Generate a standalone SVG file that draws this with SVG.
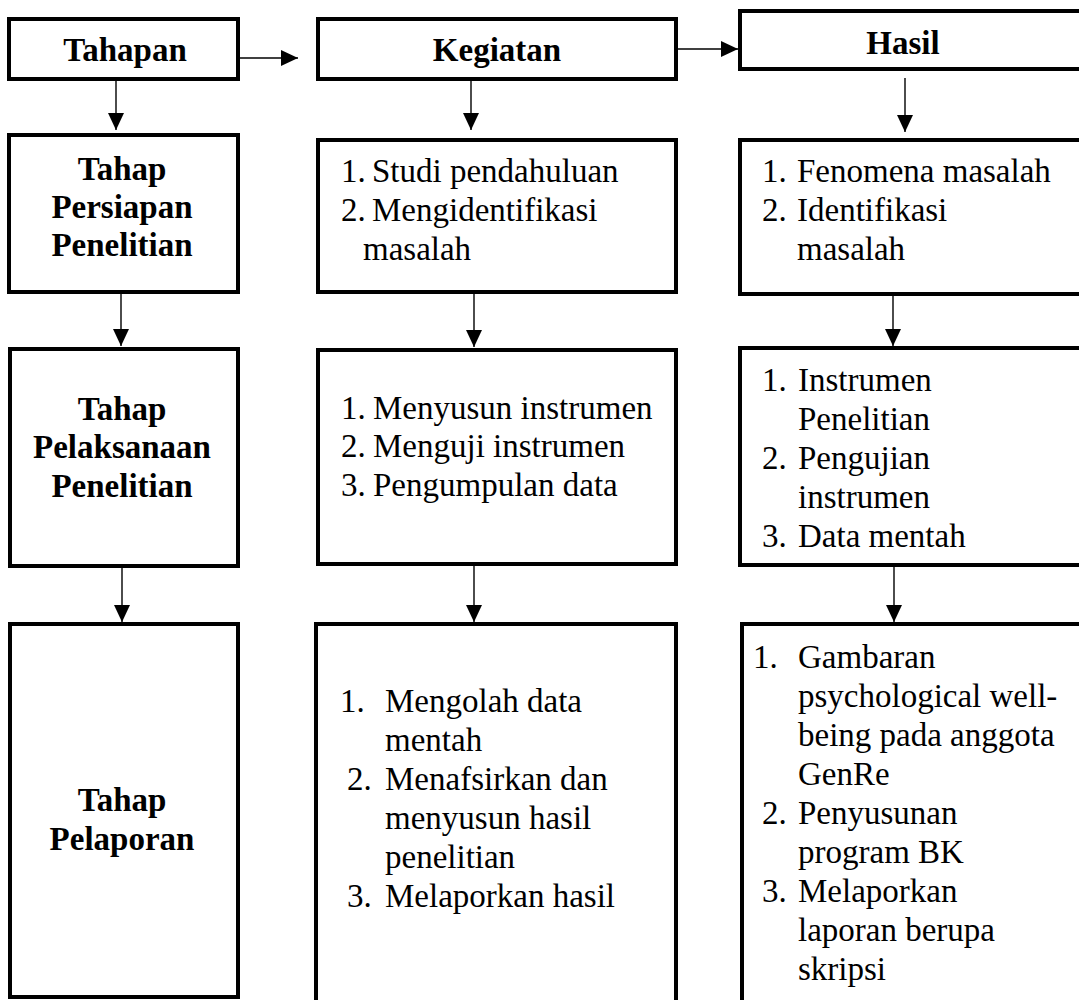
<svg xmlns="http://www.w3.org/2000/svg" width="1079" height="1000" viewBox="0 0 1079 1000">
<defs>
<marker id="ah" markerUnits="userSpaceOnUse" markerWidth="18" markerHeight="18" viewBox="0 0 18 18" refX="17" refY="9" orient="auto">
<path d="M0,1 L17,9 L0,17 Z" fill="#000"/>
</marker>
<style>
.box{fill:#fff;stroke:#000;stroke-width:4}
text{font-family:'Liberation Serif','Times New Roman',Tinos,Times,serif;fill:#000}
.h{font-weight:bold;font-size:33px;text-anchor:middle}
.b{font-weight:bold;font-size:33px;text-anchor:middle}
.t{font-size:33px}
.c{fill:none;stroke:#000;stroke-width:1.4;marker-end:url(#ah)}
</style>
</defs>
<rect width="1079" height="1000" fill="#fff"/>

<g id="connectors">
<path class="c" d="M240,58 H298"/>
<path class="c" d="M678,49 H738"/>
<path class="c" d="M116,81 V130"/>
<path class="c" d="M471,81 V130"/>
<path class="c" d="M905,78 V132"/>
<path class="c" d="M121,294 V346"/>
<path class="c" d="M474,294 V347"/>
<path class="c" d="M893,296 V346"/>
<path class="c" d="M122,568 V622"/>
<path class="c" d="M474,566 V622"/>
<path class="c" d="M894,567 V622"/>
</g>

<g id="tahapan">
<rect class="box" x="9" y="19" width="229" height="60"/>
<text class="h" x="125" y="61">Tahapan</text>
</g>
<g id="kegiatan">
<rect class="box" x="318" y="19" width="358" height="60"/>
<text class="h" x="497" y="61">Kegiatan</text>
</g>
<g id="hasil">
<rect class="box" x="740" y="11" width="345" height="58"/>
<text class="h" x="903" y="54">Hasil</text>
</g>

<g id="tahap-persiapan">
<rect class="box" x="9" y="135" width="229" height="157"/>
<text class="b" x="122" y="180">Tahap</text>
<text class="b" x="122" y="218">Persiapan</text>
<text class="b" x="122" y="256">Penelitian</text>
</g>
<g id="kegiatan-persiapan">
<rect class="box" x="318" y="140" width="358" height="152"/>
<text class="t" x="341" y="182">1.</text><text class="t" x="372" y="182">Studi pendahuluan</text>
<text class="t" x="341" y="221">2.</text><text class="t" x="372" y="221">Mengidentifikasi</text>
<text class="t" x="363" y="260">masalah</text>
</g>
<g id="hasil-persiapan">
<rect class="box" x="740" y="140" width="345" height="154"/>
<text class="t" x="762" y="182">1.</text><text class="t" x="797" y="182">Fenomena masalah</text>
<text class="t" x="762" y="221">2.</text><text class="t" x="797" y="221">Identifikasi</text>
<text class="t" x="797" y="260">masalah</text>
</g>

<g id="tahap-pelaksanaan">
<rect class="box" x="10" y="349" width="228" height="217"/>
<text class="b" x="122" y="420">Tahap</text>
<text class="b" x="122" y="458">Pelaksanaan</text>
<text class="b" x="122" y="497">Penelitian</text>
</g>
<g id="kegiatan-pelaksanaan">
<rect class="box" x="318" y="350" width="358" height="214"/>
<text class="t" x="341" y="419">1.</text><text class="t" x="373" y="419">Menyusun instrumen</text>
<text class="t" x="341" y="457">2.</text><text class="t" x="373" y="457">Menguji instrumen</text>
<text class="t" x="341" y="496">3.</text><text class="t" x="373" y="496">Pengumpulan data</text>
</g>
<g id="hasil-pelaksanaan">
<rect class="box" x="740" y="348" width="345" height="217"/>
<text class="t" x="762" y="391">1.</text><text class="t" x="798" y="391">Instrumen</text>
<text class="t" x="798" y="430">Penelitian</text>
<text class="t" x="762" y="469">2.</text><text class="t" x="798" y="469">Pengujian</text>
<text class="t" x="798" y="508">instrumen</text>
<text class="t" x="762" y="547">3.</text><text class="t" x="798" y="547">Data mentah</text>
</g>

<g id="tahap-pelaporan">
<rect class="box" x="10" y="624" width="228" height="373"/>
<text class="b" x="122" y="811">Tahap</text>
<text class="b" x="122" y="850">Pelaporan</text>
</g>
<g id="kegiatan-pelaporan">
<rect class="box" x="316" y="624" width="360" height="380"/>
<text class="t" x="340" y="712">1.</text><text class="t" x="385" y="712">Mengolah data</text>
<text class="t" x="385" y="751">mentah</text>
<text class="t" x="347" y="790">2.</text><text class="t" x="385" y="790">Menafsirkan dan</text>
<text class="t" x="385" y="829">menyusun hasil</text>
<text class="t" x="385" y="868">penelitian</text>
<text class="t" x="347" y="907">3.</text><text class="t" x="385" y="907">Melaporkan hasil</text>
</g>
<g id="hasil-pelaporan">
<rect class="box" x="742" y="624" width="345" height="380"/>
<text class="t" x="753" y="668">1.</text><text class="t" x="798" y="668">Gambaran</text>
<text class="t" x="798" y="707">psychological well-</text>
<text class="t" x="798" y="746">being pada anggota</text>
<text class="t" x="798" y="785">GenRe</text>
<text class="t" x="762" y="824">2.</text><text class="t" x="798" y="824">Penyusunan</text>
<text class="t" x="798" y="863">program BK</text>
<text class="t" x="762" y="902">3.</text><text class="t" x="798" y="902">Melaporkan</text>
<text class="t" x="798" y="941">laporan berupa</text>
<text class="t" x="798" y="980">skripsi</text>
</g>
</svg>
